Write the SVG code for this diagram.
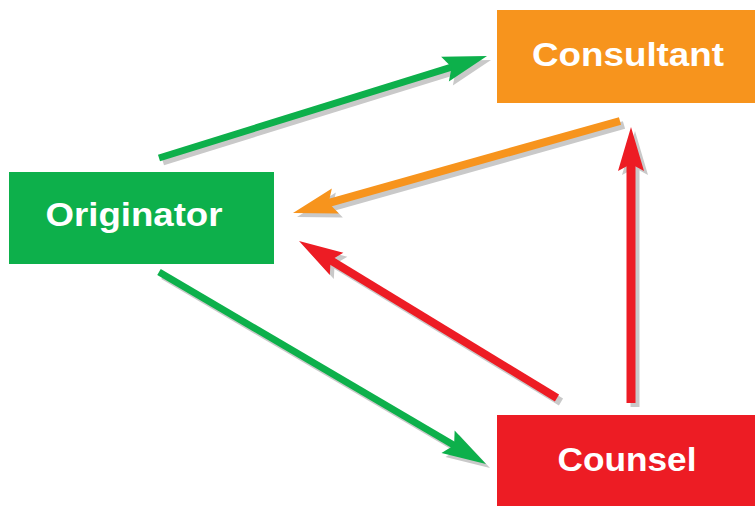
<svg xmlns="http://www.w3.org/2000/svg" xmlns:xlink="http://www.w3.org/1999/xlink" width="755" height="506" viewBox="0 0 755 506">
  <style>
    .label { font-family: "Liberation Sans", Arial, sans-serif; font-weight: bold; font-size: 33px; fill: #ffffff; text-anchor: middle; }
    .shadow { fill: #c9c9c9; }
    .green { fill: #0db04b; }
    .orange { fill: #f7941d; }
    .red { fill: #ed1c24; }
  </style>
  <defs>
    <path id="head" d="M0,0 L-44,-13 L-37,0 L-44,13 Z"/>
  </defs>
  <rect width="755" height="506" fill="#ffffff"/>

  <g id="connectors">
    <!-- Originator -> Consultant -->
    <g transform="translate(487,56) rotate(-17.27)">
      <g class="shadow" transform="rotate(17.27) translate(4,4) rotate(-17.27)">
        <rect x="-343.5" y="-3.5" width="308" height="7"/><use xlink:href="#head"/>
      </g>
      <g class="green">
        <rect x="-343.5" y="-3.5" width="308" height="7"/><use xlink:href="#head"/>
      </g>
    </g>
    <!-- Consultant -> Originator -->
    <g transform="translate(293,213) rotate(164.29)">
      <g class="shadow" transform="rotate(-164.29) translate(4,4) rotate(164.29)">
        <rect x="-339.7" y="-4" width="304" height="8"/><use xlink:href="#head"/>
      </g>
      <g class="orange">
        <rect x="-339.7" y="-4" width="304" height="8"/><use xlink:href="#head"/>
      </g>
    </g>
    <!-- Originator -> Counsel -->
    <g transform="translate(486,464) rotate(30.42)">
      <g class="shadow" transform="rotate(-30.42) translate(4,4) rotate(30.42)">
        <rect x="-379.2" y="-3.5" width="344" height="7"/><use xlink:href="#head"/>
      </g>
      <g class="green">
        <rect x="-379.2" y="-3.5" width="344" height="7"/><use xlink:href="#head"/>
      </g>
    </g>
    <!-- Counsel -> Originator -->
    <g transform="translate(299,241) rotate(211.32)">
      <g class="shadow" transform="rotate(-211.32) translate(4,4) rotate(211.32)">
        <rect x="-302" y="-4" width="266" height="8"/><use xlink:href="#head"/>
      </g>
      <g class="red">
        <rect x="-302" y="-4" width="266" height="8"/><use xlink:href="#head"/>
      </g>
    </g>
    <!-- Counsel -> Consultant -->
    <g transform="translate(631,127) rotate(-90)">
      <g class="shadow" transform="rotate(90) translate(4,4) rotate(-90)">
        <rect x="-276" y="-4.5" width="240" height="9"/><use xlink:href="#head"/>
      </g>
      <g class="red">
        <rect x="-276" y="-4.5" width="240" height="9"/><use xlink:href="#head"/>
      </g>
    </g>
  </g>

  <g id="consultant">
    <rect x="497" y="10" width="258" height="93" fill="#f7941d"/>
    <text class="label" x="628" y="66" textLength="192" lengthAdjust="spacingAndGlyphs">Consultant</text>
  </g>
  <g id="originator">
    <rect x="9" y="172" width="265" height="92" fill="#0db04b"/>
    <text class="label" x="134" y="226" textLength="177" lengthAdjust="spacingAndGlyphs">Originator</text>
  </g>
  <g id="counsel">
    <rect x="497" y="415" width="258" height="91" fill="#ed1c24"/>
    <text class="label" x="627" y="471" textLength="139" lengthAdjust="spacingAndGlyphs">Counsel</text>
  </g>
</svg>
